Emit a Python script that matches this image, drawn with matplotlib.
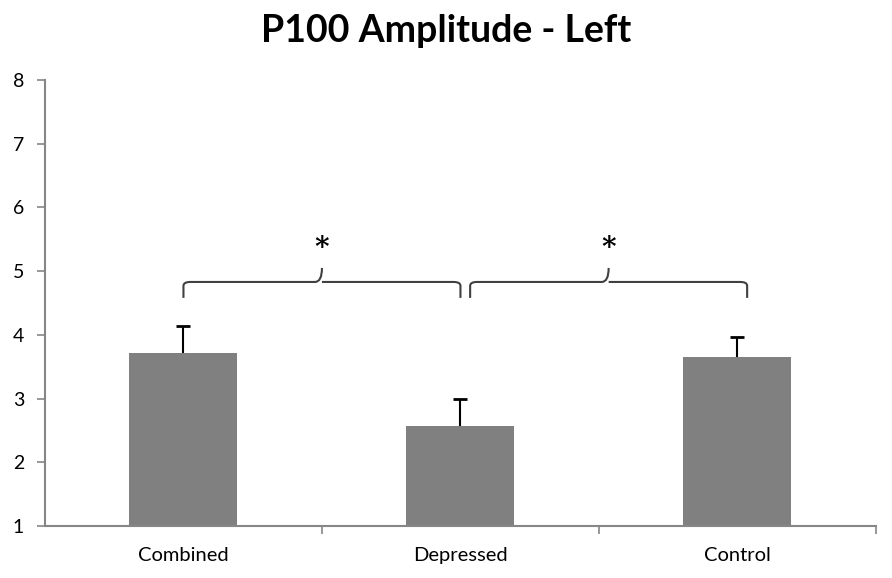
import matplotlib
matplotlib.use("Agg")
import matplotlib.pyplot as plt
from matplotlib.path import Path
from matplotlib.patches import PathPatch

# values
groups = ["Combined", "Depressed", "Control"]
means = [3.72, 2.57, 3.66]
err_up = [0.42, 0.42, 0.31]
yticks = [1, 2, 3, 4, 5, 6, 7, 8]
title = "P100 Amplitude - Left"

# significance brackets: (x start, x end, label)
brackets = [(0.0, 1.0, "*"), (1.035, 2.035, "*")]

plt.rcParams['font.family'] = ['Lato', 'DejaVu Sans']

fig = plt.figure(figsize=(8.92, 5.78), dpi=100)
ax = fig.add_axes([0.0504, 0.09, 0.9316, 0.7716])

x = list(range(len(groups)))
tops = [m + e for m, e in zip(means, err_up)]
ax.bar(x, means, width=0.39, bottom=0, color="#808080", zorder=2)
# upper-only error bars
ax.vlines(x, means, tops, color="black", linewidth=1.5, zorder=3)
ax.plot(x, tops, linestyle="none", marker="_", markersize=10,
        markeredgewidth=2, color="black", zorder=3)

ax.set_xlim(-0.5, 2.5)
ax.set_ylim(1, 8)
ax.set_yticks(yticks)
ax.set_xticks([0.5, 1.5, 2.5])
ax.set_xticklabels([])
ax.set_xticks(x, minor=True)
ax.set_xticklabels(groups, minor=True)
ax.tick_params(axis="x", which="minor", length=0, pad=15, labelsize=14.5)
ax.tick_params(axis="x", which="major", length=6, color="#868686", width=1.2)
ax.tick_params(axis="y", length=6, color="#868686", width=1.2, labelsize=14, pad=9)

for side in ["top", "right"]:
    ax.spines[side].set_visible(False)
for side in ["left", "bottom"]:
    ax.spines[side].set_color("#868686")
    ax.spines[side].set_linewidth(1.5)

# curly brackets
y_line, y_end, y_tip = 4.83, 4.58, 5.05
for x0, x1, lab in brackets:
    xm = (x0 + x1) / 2
    r = 0.025
    verts = [(x0, y_end), (x0, y_line - 0.06), (x0, y_line), (x0 + r, y_line),
             (xm - r, y_line), (xm, y_line), (xm, y_tip),
             (xm, y_line), (xm + r, y_line),
             (x1 - r, y_line), (x1, y_line), (x1, y_line - 0.06), (x1, y_end)]
    codes = [Path.MOVETO, Path.LINETO, Path.CURVE3, Path.CURVE3,
             Path.LINETO, Path.CURVE3, Path.CURVE3,
             Path.MOVETO, Path.LINETO,
             Path.LINETO, Path.CURVE3, Path.CURVE3, Path.LINETO]
    ax.add_patch(PathPatch(Path(verts, codes), fill=False, edgecolor="#404040",
                           linewidth=1.5, zorder=4, clip_on=False))
    ax.text(xm, 5.36, lab, ha="center", va="center", fontsize=20,
            fontweight="bold", family="DejaVu Serif")

fig.suptitle(title, x=0.5, y=0.975, fontsize=27, fontweight="bold")

fig.savefig("out.png", dpi=100, facecolor="white")
